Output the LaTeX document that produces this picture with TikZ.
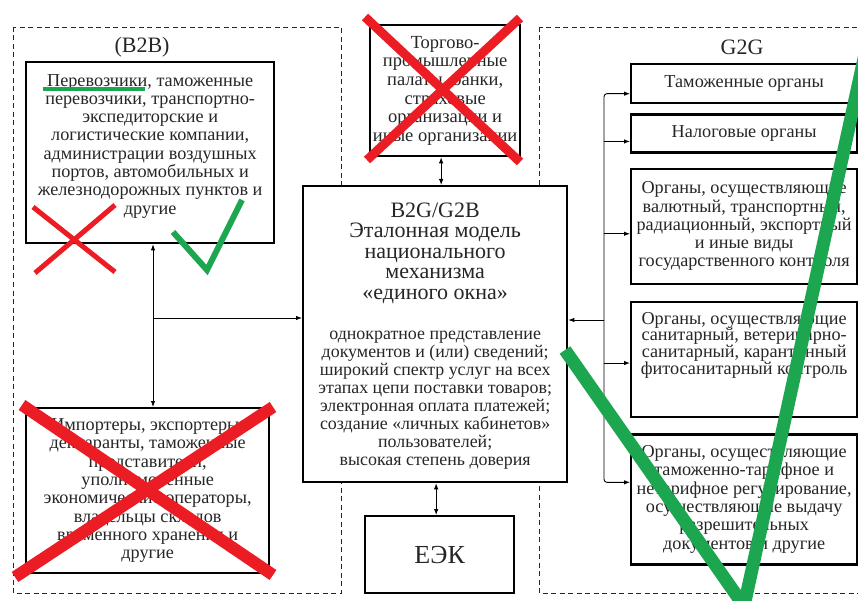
\documentclass[tikz,border=0pt]{standalone}
\usepackage{fontspec}
\setmainfont{Liberation Serif}
\usetikzlibrary{positioning,arrows.meta}
\definecolor{inkgray}{HTML}{262626}
\definecolor{markred}{HTML}{EC1C24}
\definecolor{markgreen}{HTML}{1CA650}
\begin{document}
\begin{tikzpicture}[
  x=1pt, y=-1pt,
  >={Latex[length=6pt,width=4.5pt]},
  frame/.style={draw, line width=2.3pt, fill=white, align=center, inner sep=0pt, anchor=north west, text=inkgray},
  region/.style={draw=inkgray, line width=0.9pt, dash pattern=on 5pt off 3.5pt},
  link/.style={line width=0.9pt},
  cross/.style={markred, line width=#1},
  tick/.style={markgreen, line width=#1},
  font=\fontsize{18.2}{18.3}\selectfont
]
\useasboundingbox (0,0) rectangle (858,601);
\clip (0,0) rectangle (858,601);

% dashed zones
\draw[region] (13,27) rectangle (341,593);
\draw[region] (539,27) rectangle (880,593);

\node[font=\fontsize{22}{24}\selectfont, text=inkgray] (b2blabel) at (142,47) {(B2B)};
\node[font=\fontsize{22}{24}\selectfont, text=inkgray] (g2glabel) at (742,47) {G2G};

% B2B side
\node[frame] (carriers) at (25,61) {\parbox[c][181pt][t]{248pt}{\centering\vspace*{12pt}
  Перевозчики, таможенные\\перевозчики, транспортно-\\экспедиторские и\\логистические компании,\\администрации воздушных\\портов, автомобильных и\\железнодорожных пунктов и\\другие}};
\node[frame, minimum width=243pt, minimum height=165pt] (importers) at (25,407)
  {Импортеры, экспортеры,\\декларанты, таможенные\\представители,\\уполномоченные\\экономические операторы,\\владельцы складов\\временного хранения и\\другие};

% centre
\node[frame, minimum width=264pt, minimum height=296pt] (window) at (302,185) {};
\node[below=14pt of window.north, align=center, text=inkgray, font=\fontsize{22}{20.6}\selectfont] (windowhead)
  {B2G/G2B\\Эталонная модель\\национального\\механизма\\«единого окна»};
\node[below=20pt of windowhead, align=center, text=inkgray, font=\fontsize{17.9}{18.1}\selectfont] (windowlist)
  {однократное представление\\документов и (или) сведений;\\широкий спектр услуг на всех\\этапах цепи поставки товаров;\\электронная оплата платежей;\\создание «личных кабинетов»\\пользователей;\\высокая степень доверия};
\node[frame, minimum width=150pt, minimum height=131pt, font=\fontsize{18.5}{18.6}\selectfont] (chambers) at (369,24)
  {Торгово-\\промышленные\\палаты, банки,\\страховые\\организации и\\иные организации};
\node[frame, minimum width=149pt, minimum height=77pt, font=\fontsize{26}{28}\selectfont] (eek) at (364,515) {ЕЭК};

% G2G side
\node[frame, minimum width=226pt, minimum height=39pt] (customs) at (630,63) {Таможенные органы};
\node[frame, minimum width=226pt, minimum height=38pt, below=9pt of customs.south west, anchor=north west] (tax) {Налоговые органы};
\node[frame, minimum width=226pt, minimum height=115pt, below=14pt of tax.south west, anchor=north west] (control)
  {Органы, осуществляющие\\валютный, транспортный,\\радиационный, экспортный\\и иные виды\\государственного контроля};
\node[frame, below=16pt of control.south west, anchor=north west, font=\fontsize{18.2}{16.8}\selectfont] (sanitary)
  {\parbox[c][115pt][t]{226pt}{\centering\vspace*{10pt}
  Органы, осуществляющие\\санитарный, ветеринарно-\\санитарный, карантинный\\фитосанитарный контроль}};
\node[frame, minimum width=226pt, minimum height=130pt, below=15pt of sanitary.south west, anchor=north west] (tariff)
  {Органы, осуществляющие\\таможенно-тарифное и\\нетарифное регулирование,\\осуществляющие выдачу\\разрешительных\\документов и другие};

% connectors
\coordinate (bjoin) at (153,318);
\coordinate (gjoin) at (604,320);
\draw[link,->] (bjoin) -- (carriers.south -| bjoin);
\draw[link,->] (bjoin) -- (importers.north -| bjoin);
\draw[link,->] (bjoin) -- (window.west |- bjoin);
\draw[link,->] (gjoin) -- (window.east |- gjoin);
\draw[link,->,rounded corners=3pt] (gjoin) |- ([yshift=-10pt]customs.west);
\draw[link,->,rounded corners=3pt] (gjoin) |- ([yshift=17pt]tariff.west);
\foreach \n/\dy in {tax/-8, control/-7.5, sanitary/-3.5}
  \draw[link,->] ([yshift=\dy pt]\n.west -| gjoin) -- ([yshift=\dy pt]\n.west);
\draw[link,<->] ([xshift=-4pt]chambers.south) -- ([xshift=-4pt]chambers.south |- window.north);
\draw[link,<->] ([xshift=-3.5pt]eek.north |- window.south) -- ([xshift=-3.5pt]eek.north);

% marks
\draw[tick=3.5pt] (43,89) -- (145,89);
\draw[cross=5pt] (33,207) -- (115,272) (115,205) -- (35,273);
\draw[tick=6pt] (173,232) -- (207,270) -- (242,200);
\draw[cross=9pt] (365,17) -- (520,162) (520,18) -- (367,160);
\draw[cross=12pt] (22,405) -- (273,575) (273,407) -- (15,577);
\draw[tick=13pt] (565,350) -- (744,606) -- (872,22);
\end{tikzpicture}
\end{document}
